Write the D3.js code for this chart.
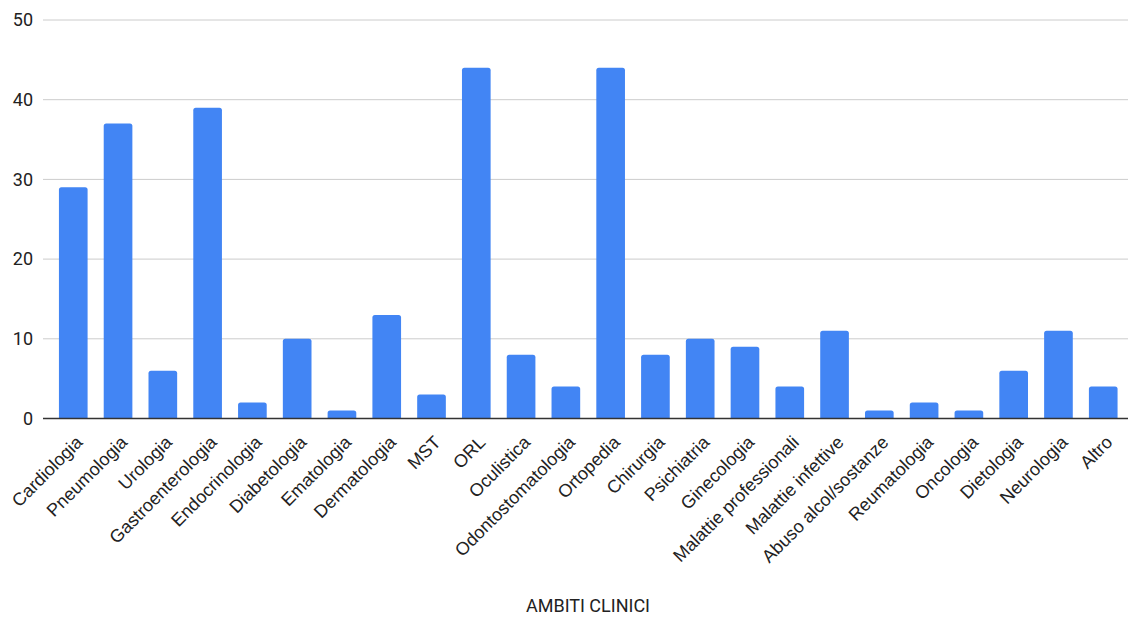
<!DOCTYPE html>
<html>
<head>
<meta charset="utf-8">
<script src="https://cdn.jsdelivr.net/npm/d3@7"></script>
<style>
  html, body { margin: 0; padding: 0; background: #fff; }
  svg { display: block; font-family: Roboto, "Noto Sans", sans-serif; }
</style>
</head>
<body>
<svg id="chart" width="1128" height="617"></svg>
<script>
const categories = [
  "Cardiologia", "Pneumologia", "Urologia", "Gastroenterologia", "Endocrinologia",
  "Diabetologia", "Ematologia", "Dermatologia", "MST", "ORL", "Oculistica",
  "Odontostomatologia", "Ortopedia", "Chirurgia", "Psichiatria", "Ginecologia",
  "Malattie professionali", "Malattie infettive", "Abuso alcol/sostanze",
  "Reumatologia", "Oncologia", "Dietologia", "Neurologia", "Altro"
];
const values = [29, 37, 6, 39, 2, 10, 1, 13, 3, 44, 8, 4, 44, 8, 10, 9, 4, 11, 1, 2, 1, 6, 11, 4];
const yTicks = [0, 10, 20, 30, 40, 50];
const xTitle = "AMBITI CLINICI";

const svg = d3.select("#chart");
const left = 43, right = 1128;

const x = d3.scaleBand()
  .domain(categories)
  .range([45.5, 1131])
  .paddingInner(0.36)
  .paddingOuter(0.3);

const y = d3.scaleLinear()
  .domain([0, 50])
  .range([418.5, 20]);

// horizontal gridlines
svg.append("g")
  .selectAll("line")
  .data(yTicks.filter(d => d !== 0))
  .join("line")
  .attr("x1", left).attr("x2", right)
  .attr("y1", d => y(d)).attr("y2", d => y(d))
  .attr("stroke", "#cccccc").attr("stroke-width", 1);

// y axis labels
const yAxis = d3.axisLeft(y).tickValues(yTicks).tickSize(0).tickPadding(10);
svg.append("g")
  .attr("transform", `translate(${left},0)`)
  .call(yAxis)
  .call(g => g.select(".domain").remove())
  .call(g => g.selectAll("text")
    .attr("font-size", 18)
    .attr("font-family", "Roboto, sans-serif")
    .attr("fill", "#222"));

// bars with slightly rounded top corners
const r = 2.5;
svg.append("g")
  .selectAll("path")
  .data(categories.map((c, i) => ({ c, v: values[i] })))
  .join("path")
  .attr("fill", "#4285f4")
  .attr("d", d => {
    const x0 = x(d.c), w = x.bandwidth();
    const y0 = y(d.v), yb = y(0);
    const rr = Math.min(r, (yb - y0) / 2);
    return `M${x0},${yb}V${y0 + rr}Q${x0},${y0} ${x0 + rr},${y0}` +
           `H${x0 + w - rr}Q${x0 + w},${y0} ${x0 + w},${y0 + rr}V${yb}Z`;
  });

// baseline
svg.append("line")
  .attr("x1", left).attr("x2", right)
  .attr("y1", y(0)).attr("y2", y(0))
  .attr("stroke", "#333").attr("stroke-width", 1.3);

// x axis labels, rotated
const xAxis = d3.axisBottom(x).tickSize(0).tickPadding(0);
svg.append("g")
  .attr("transform", `translate(0,${y(0)})`)
  .call(xAxis)
  .call(g => g.select(".domain").remove())
  .call(g => g.selectAll("text")
    .attr("font-size", 18)
    .attr("font-family", "'Liberation Sans', Arial, sans-serif")
    .attr("fill", "#222")
    .attr("text-anchor", "end")
    .attr("dy", null)
    .attr("y", 0)
    .attr("transform", `translate(${x.bandwidth() / 2 - 4},25) rotate(-45)`));

// axis title
svg.append("text")
  .attr("x", 588).attr("y", 612)
  .attr("text-anchor", "middle")
  .attr("font-size", 18)
  .attr("font-family", "Roboto, sans-serif")
  .attr("fill", "#222")
  .text(xTitle);
</script>
</body>
</html>
